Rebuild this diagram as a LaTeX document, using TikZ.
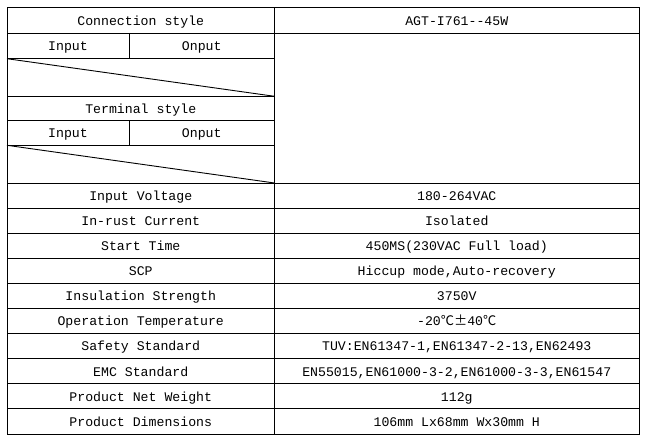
\documentclass[tikz,border=0pt]{standalone}
\usepackage{fontspec}
\setmainfont{Liberation Mono}
\newfontfamily\cjk{Noto Sans CJK SC}
\begin{document}
\begin{tikzpicture}[x=1pt,y=-1pt,line width=0.9pt,
    cell/.style={font=\fontsize{13.2}{15}\selectfont,inner sep=0pt,text height=8.7pt,text depth=0pt}]
            \useasboundingbox (0,0) rectangle (652,441);
            \def\mid{274.5}
            \draw (7,7.5) rectangle (639,434);
            \draw (\mid,7.5) -- (\mid,434);
            \draw (7,33) -- (639,33);
            \draw (7,58.7) -- (\mid,58.7) (7,96.3) -- (\mid,96.3) (7,120) -- (\mid,120) (7,145.3) -- (\mid,145.3);
            \draw (129,33) -- (129,58.7) (129,120) -- (129,145.3);
            \draw (7,58.7) -- (\mid,96.3) (7,145.3) -- (\mid,183);%diagonales
            \node[cell] (conn) at (140.75,21) {Connection style};
            \node[cell] (model) at (456.75,21) {AGT-I761-{}-45W};
            \node[cell] (in1) at (68,46.5) {Input};
            \node[cell] (out1) at (201.75,46.5) {Onput};
            \node[cell] (term) at (140.75,109) {Terminal style};
            \node[cell] (in2) at (68,133.2) {Input};
            \node[cell] (out2) at (201.75,133.2) {Onput};
            \foreach \l/\r [count=\i from 0] in {Input Voltage/180-264VAC,In-rust Current/Isolated,
                Start Time/{450MS(230VAC Full load)},SCP/{Hiccup mode,Auto-recovery},
                Insulation Strength/3750V,Operation Temperature/{-20{\cjk ℃±}40{\cjk ℃}},
                Safety Standard/{TUV:EN61347-1,EN61347-2-13,EN62493},
                EMC Standard/{EN55015,EN61000-3-2,EN61000-3-3,EN61547},
                Product Net Weight/112g,Product Dimensions/{106mm Lx68mm Wx30mm H}}
            {
                \draw (7,183+25.1*\i) -- (639,183+25.1*\i);
                \node[cell] (lab\i) at (140.75,196+25.1*\i) {\l};
                \node[cell] (val\i) at (456.75,196+25.1*\i) {\r};
            }
        \end{tikzpicture}
\end{document}
